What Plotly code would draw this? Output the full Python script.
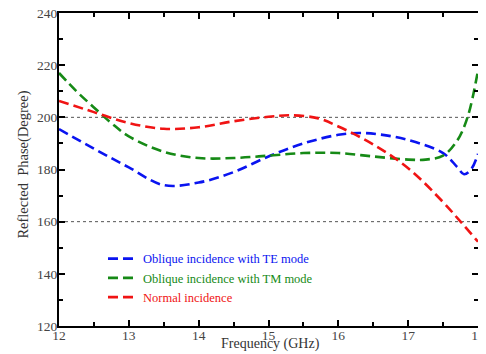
import plotly.graph_objects as go

# Frequency grid (GHz) and reflected phase (degrees) per series
freq_te = [12, 12.5, 13, 13.5, 14, 14.5, 15, 15.5, 16, 16.3, 16.6, 17, 17.5, 17.7, 17.8, 17.9, 18]
phase_te = [195.5, 188, 180.8, 174, 175, 179, 185, 190, 193.3, 194, 193.4, 191.3, 186.3, 181, 178.2, 180, 186]

freq_tm = [12, 12.25, 12.5, 12.75, 13, 13.5, 14, 14.5, 15, 15.5, 16, 16.5, 17, 17.25, 17.5, 17.7, 17.85, 18]
phase_tm = [217, 210, 203.8, 197.8, 192.7, 186.8, 184.4, 184.4, 185.3, 186.3, 186.3, 185, 183.8, 183.8, 185.3, 191, 200, 218]

freq_n = [12, 12.5, 13, 13.5, 14, 14.5, 15, 15.3, 15.7, 16, 16.5, 17, 17.5, 17.75, 18]
phase_n = [206.3, 202, 197.8, 195.6, 196.2, 198.5, 200.2, 200.8, 199.7, 196.5, 189.6, 180.5, 167.5, 160, 152.3]

names = ["Oblique incidence with TE mode", "Oblique incidence with TM mode", "Normal incidence"]
colors = ["#0a14f0", "#168a16", "#f01414"]
ref_lines = [160, 200]
x_ticks = [12, 13, 14, 15, 16, 17, 18]
y_ticks = [120, 140, 160, 180, 200, 220, 240]
x_title = "Frequency (GHz)"
y_title = "Reflected  Phase(Degree)"

fig = go.Figure()
for xs, ys, nm, c in [(freq_te, phase_te, names[0], colors[0]),
                      (freq_tm, phase_tm, names[1], colors[1]),
                      (freq_n, phase_n, names[2], colors[2])]:
    fig.add_trace(go.Scatter(
        x=xs, y=ys, mode="lines",
        line=dict(color=c, width=2.6, dash="10px,5px", shape="spline", smoothing=1.0),
        name=f"<span style='color:{c}'>{nm}</span>",
    ))

for v in ref_lines:
    fig.add_hline(y=v, line=dict(color="#555555", width=1, dash="dot"), layer="below")

font_family = "Liberation Serif"
axis_common = dict(
    showline=True, linecolor="black", linewidth=2, mirror="ticks",
    ticks="inside", ticklen=6, tickwidth=2, tickcolor="black",
    showgrid=False, zeroline=False, automargin=False, ticklabeloverflow="allow",
    tickfont=dict(family=font_family, size=13.5, color="#444444"),
)

fig.update_xaxes(range=[12, 18], tickvals=x_ticks, ticklabelstandoff=-4,
                 minor=dict(dtick=0.5, ticks="inside", ticklen=4, tickwidth=2, tickcolor="black"),
                 **axis_common)
fig.update_yaxes(range=[120, 240], tickvals=y_ticks, ticklabelstandoff=-3,
                 minor=dict(dtick=10, ticks="inside", ticklen=4, tickwidth=2, tickcolor="black"),
                 **axis_common)

fig.add_annotation(text=x_title, xref="paper", yref="paper", x=0.505, y=-0.09,
                   xanchor="center", yanchor="bottom", showarrow=False,
                   font=dict(family=font_family, size=14, color="#333333"))
fig.add_annotation(text=y_title, xref="paper", yref="paper", x=-0.084, y=0.515,
                   xanchor="center", yanchor="middle", textangle=-90, showarrow=False,
                   font=dict(family=font_family, size=14.5, color="#333333"))

fig.update_layout(
    width=478, height=346,
    margin=dict(l=51, r=8, t=5, b=28),
    paper_bgcolor="white", plot_bgcolor="white",
    showlegend=True,
    font=dict(family=font_family),
    legend=dict(x=0.105, y=0.262, xanchor="left", yanchor="top",
                bgcolor="rgba(0,0,0,0)", font=dict(family=font_family, size=12.5),
                tracegroupgap=0, itemwidth=30),
)

fig.write_html("out.html")
